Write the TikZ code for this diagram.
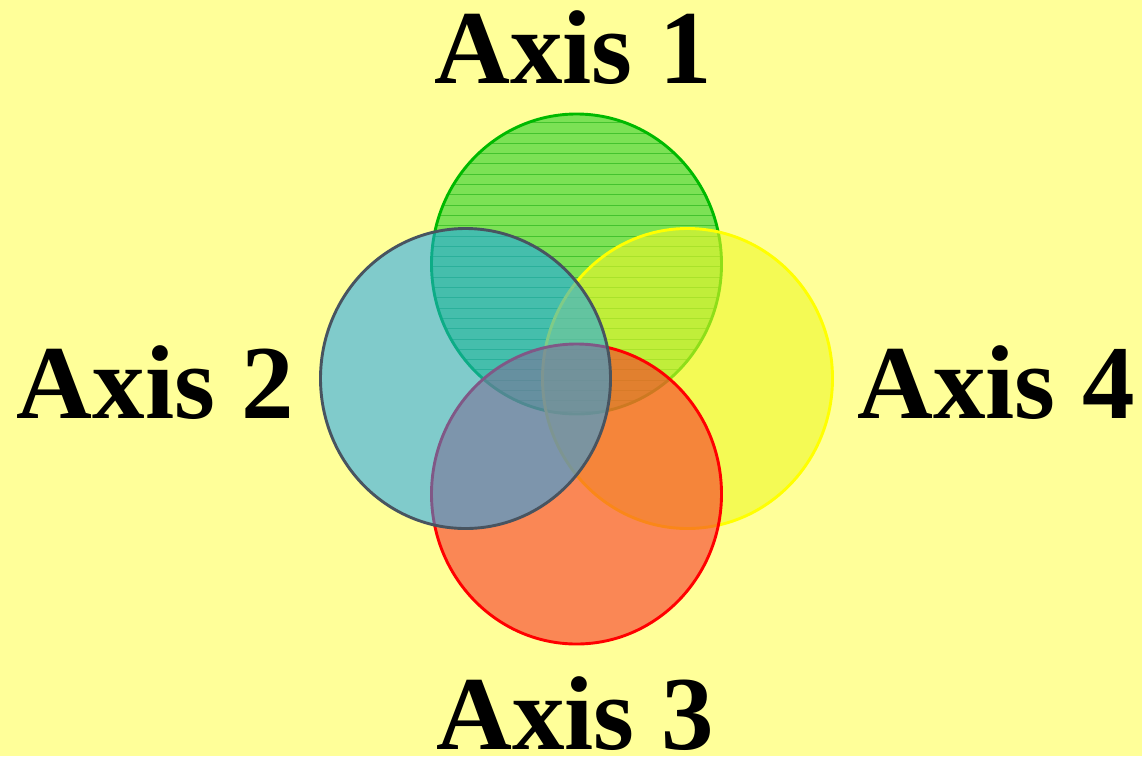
\documentclass[tikz,border=0pt]{standalone}
\usepackage{fontspec}
\setmainfont{Liberation Serif}
\definecolor{bgyel}{RGB}{255,255,153}
\definecolor{cgreen}{RGB}{38,205,40}
\definecolor{cgreenline}{RGB}{0,185,0}
\definecolor{cstripe}{RGB}{0,160,0}
\definecolor{cyel}{RGB}{238,247,40}
\definecolor{cyelline}{RGB}{255,255,0}
\definecolor{cred}{RGB}{247,55,40}
\definecolor{credline}{RGB}{255,0,0}
\definecolor{cblue}{RGB}{24,162,245}
\definecolor{cblueline}{RGB}{72,84,96}
\begin{document}
\begin{tikzpicture}[x=1pt,y=-1pt,
  venn/.style={line width=2.9pt},
  stripe/.style={cstripe, line width=1pt, opacity=0.45},
  axislabel/.style={anchor=base, inner sep=0pt, text depth=0pt, font=\fontsize{105}{110}\selectfont\bfseries, text=black}]
\fill[bgyel] (0,0) rectangle (1142,756);
\useasboundingbox (0,0) rectangle (1142,756);
\coordinate (c1) at (576.5,264);
\coordinate (c2) at (465.5,378.5);
\coordinate (c4) at (687.5,378.5);
\coordinate (c3) at (576.5,494);
% Axis 1 (green, striped)
\fill[cgreen, fill opacity=0.6] (c1) ellipse [x radius=145pt, y radius=150pt];
\begin{scope}
  \clip (c1) ellipse [x radius=145pt, y radius=150pt];
  \foreach \k in {0,...,28} \draw[stripe] (420,122.7+10.3*\k) -- (740,122.7+10.3*\k);
\end{scope}
\draw[venn, cgreenline] (c1) ellipse [x radius=145pt, y radius=150pt];
% Axis 4 (yellow)
\filldraw[venn, fill=cyel, fill opacity=0.6, draw=cyelline] (c4) ellipse [x radius=145pt, y radius=150pt];
% Axis 3 (red)
\filldraw[venn, fill=cred, fill opacity=0.6, draw=credline] (c3) ellipse [x radius=145pt, y radius=150pt];
% Axis 2 (blue)
\filldraw[venn, fill=cblue, fill opacity=0.55, draw=cblueline] (c2) ellipse [x radius=145pt, y radius=150pt];
% labels
\node[axislabel] (a1) at (573,83) {Axis 1};
\node[axislabel] (a2) at (155.5,418) {Axis 2};
\node[axislabel] (a3) at (575,749) {Axis 3};
\node[axislabel] (a4) at (996,418) {Axis 4};
\end{tikzpicture}
\end{document}
